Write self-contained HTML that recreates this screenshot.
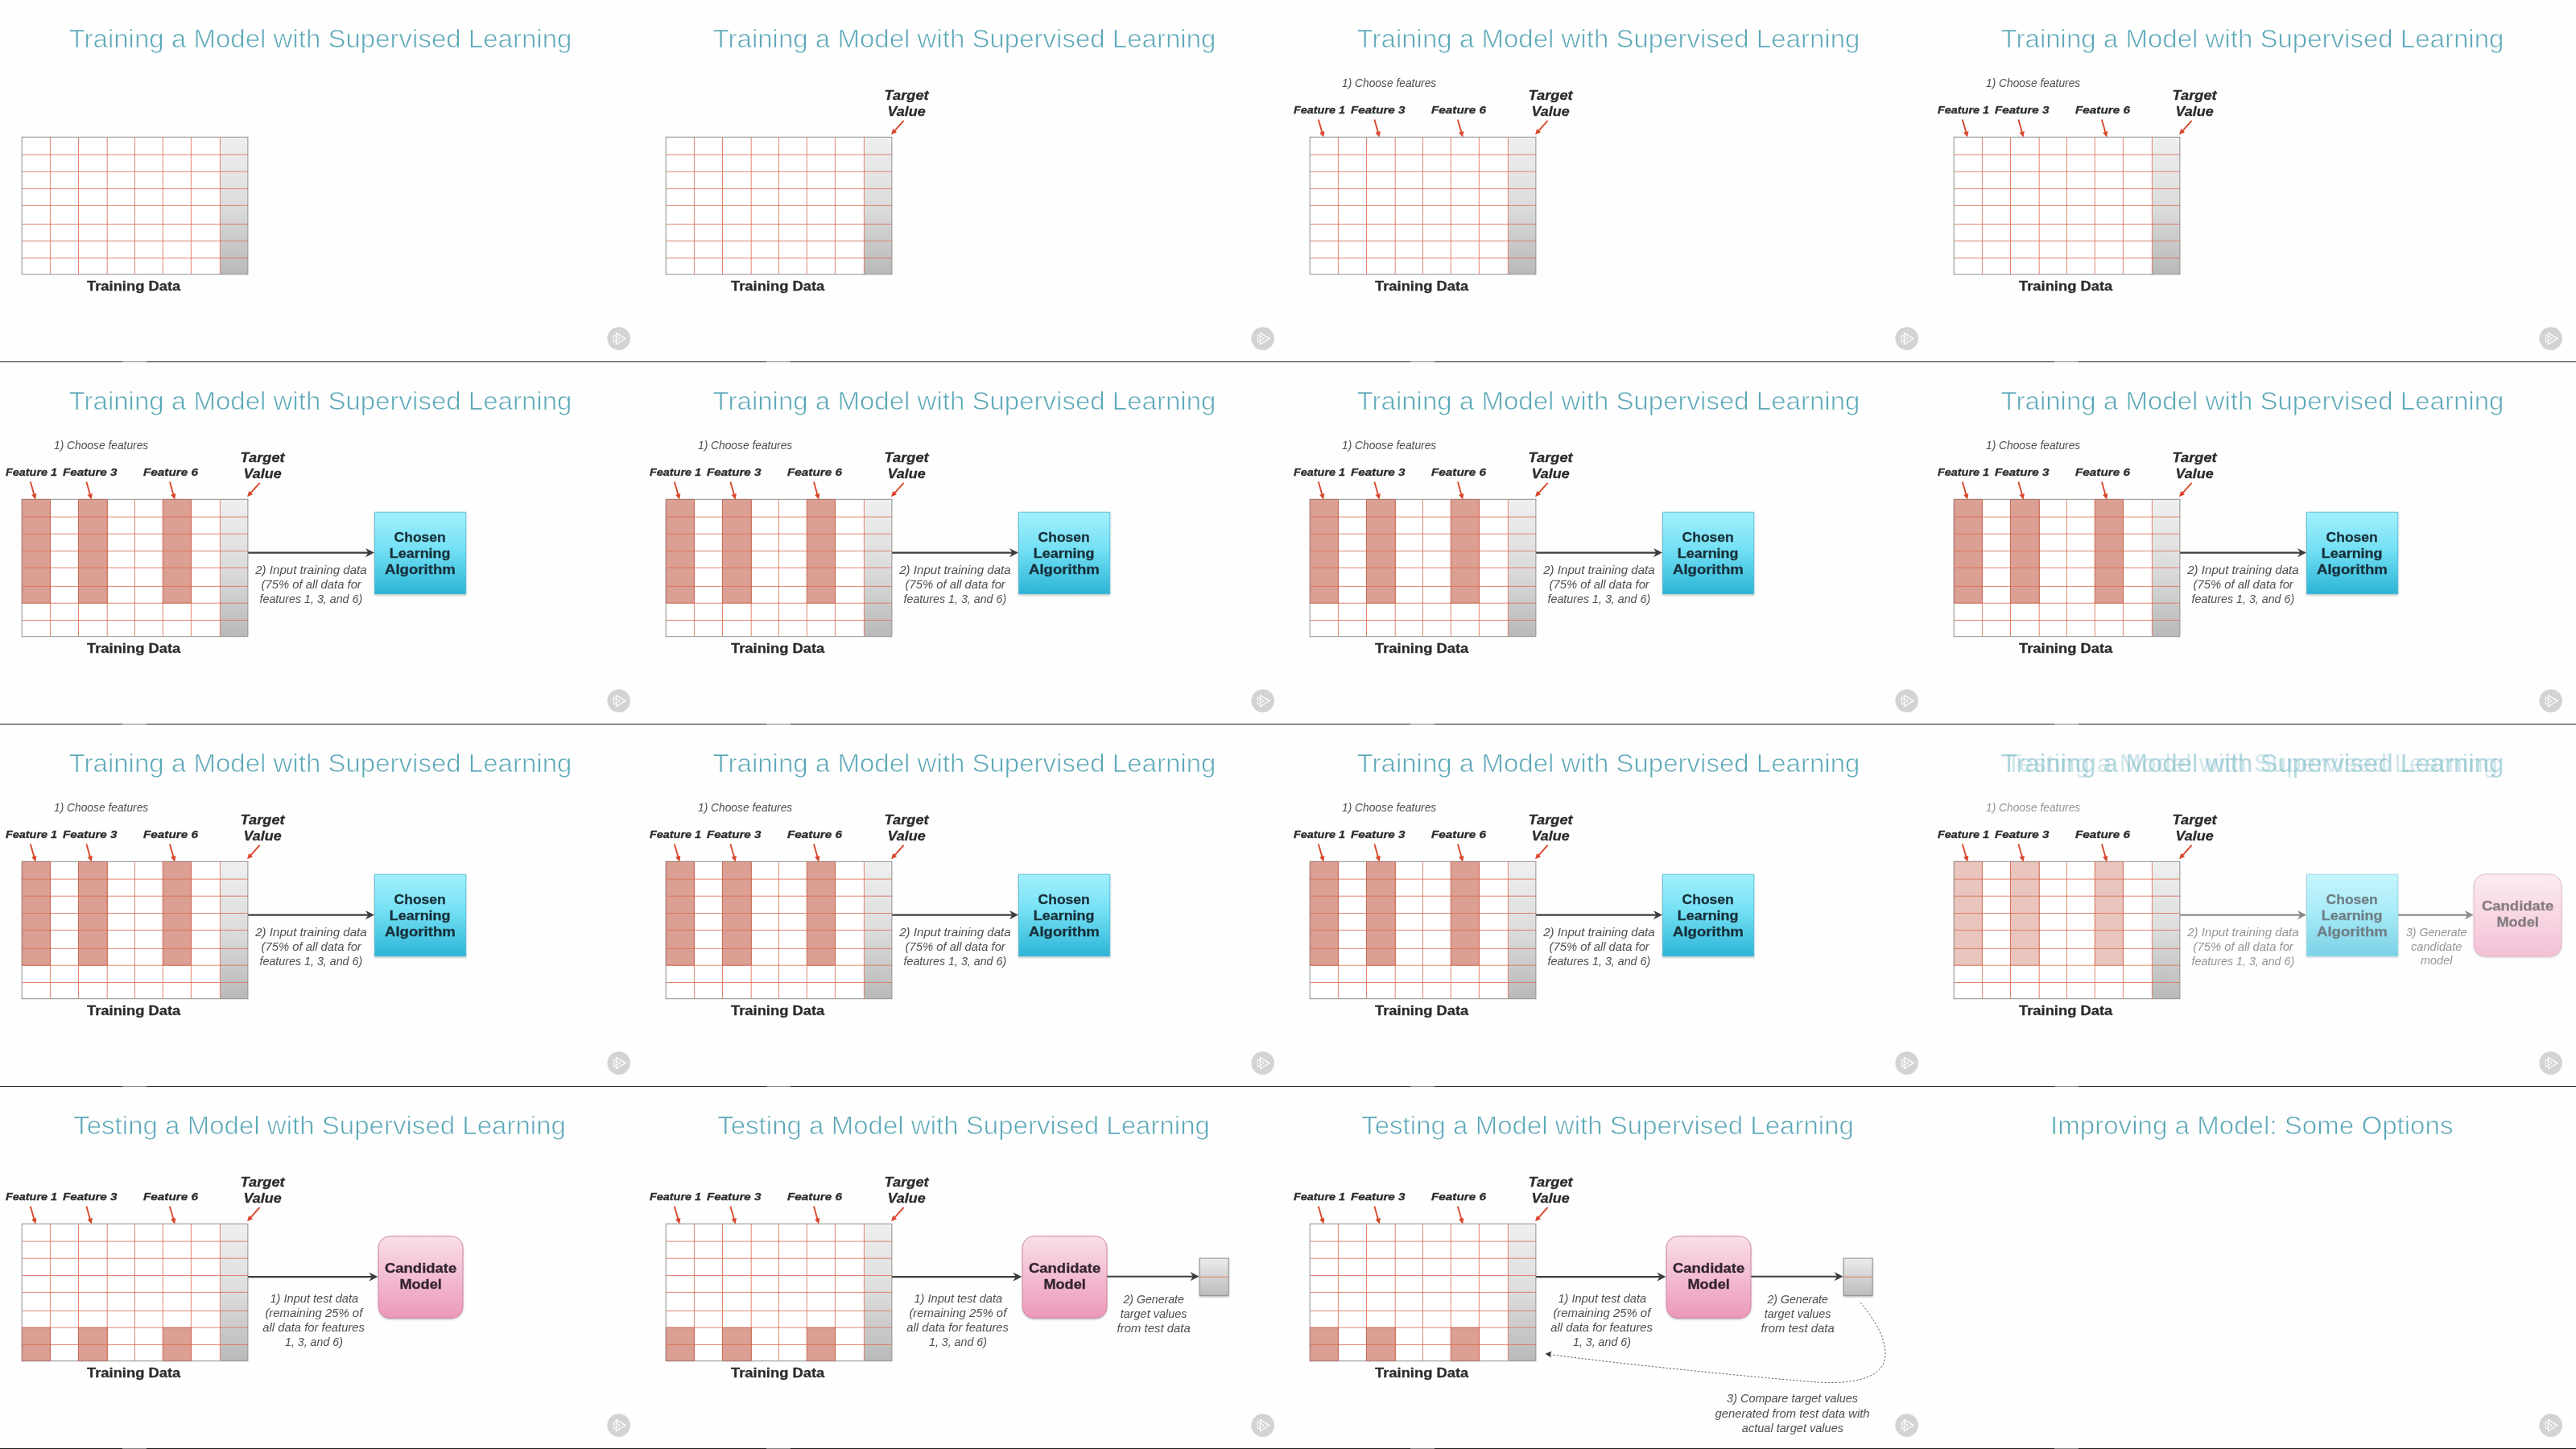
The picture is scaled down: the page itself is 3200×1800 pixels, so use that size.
<!DOCTYPE html><html><head><meta charset="utf-8"><title>Supervised Learning slides</title><style>
html,body{margin:0;padding:0;background:#fefefe;}
body{width:3200px;height:1800px;position:relative;overflow:hidden;font-family:"Liberation Sans", sans-serif;}
svg.c{will-change:transform;position:absolute;width:800px;height:450px;overflow:hidden;display:block;}
text{font-family:"Liberation Sans", sans-serif;fill:#2b2b2b;}
.tt{fill:#5ba8b8;font-weight:normal;stroke:#fefefe;stroke-width:0.7px;paint-order:fill stroke;}
.ttx{fill:#6fb3c1;font-weight:normal;}
.b{font-weight:bold;stroke:#2b2b2b;stroke-width:0.3px;}
.bi{font-weight:bold;font-style:italic;stroke:#2b2b2b;stroke-width:0.3px;}
.i{font-style:italic;fill:#4e4e4e;}
.ln{position:absolute;left:0;width:3200px;height:1.2px;background:#1c1c1c;}
.lg{position:absolute;width:30px;height:1.6px;background:#fefefe;opacity:.45;}

</style></head><body>
<svg width="0" height="0" style="position:absolute"><defs>
<linearGradient id="gg" x1="0" y1="0" x2="0" y2="1"><stop offset="0" stop-color="#efefef"/><stop offset="0.5" stop-color="#dcdcdc"/><stop offset="1" stop-color="#b9b9b9"/></linearGradient>
<linearGradient id="gg2" x1="0" y1="0" x2="0" y2="1"><stop offset="0" stop-color="#ececec"/><stop offset="1" stop-color="#bcbcbc"/></linearGradient>
<linearGradient id="gc" x1="0" y1="0" x2="0" y2="1"><stop offset="0" stop-color="#a2f0fd"/><stop offset="0.45" stop-color="#74e0f4"/><stop offset="1" stop-color="#2bb5d6"/></linearGradient>
<linearGradient id="gp" x1="0" y1="0" x2="0" y2="1"><stop offset="0" stop-color="#f9dfe9"/><stop offset="0.5" stop-color="#f3bcd2"/><stop offset="1" stop-color="#eb97ba"/></linearGradient>
<filter id="sh" x="-10%" y="-10%" width="120%" height="125%"><feDropShadow dx="0" dy="1.2" stdDeviation="1.1" flood-color="#000" flood-opacity="0.3"/></filter>
</defs></svg>
<svg class="c" style="left:0px;top:0px" viewBox="0 0 800 450"><text class="tt" x="85.6" y="58.9" font-size="31.2" textLength="624.8" lengthAdjust="spacingAndGlyphs">Training a Model with Supervised Learning</text><rect x="27.2" y="170.3" width="280.7" height="170.4" fill="#fff"/><rect x="273.4" y="170.3" width="34.5" height="170.4" fill="url(#gg)"/><path d="M62.4 170.3V340.7M97.5 170.3V340.7M133.2 170.3V340.7M167.4 170.3V340.7M202.3 170.3V340.7M237.4 170.3V340.7M273.4 170.3V340.7M27.2 192.1H307.9M27.2 213.2H307.9M27.2 234.5H307.9M27.2 255.4H307.9M27.2 278.4H307.9M27.2 299.2H307.9M27.2 320.5H307.9" stroke="#db7053" stroke-width="0.85" fill="none"/><rect x="27.2" y="170.3" width="280.7" height="170.4" fill="none" stroke="#8f8f8f" stroke-width="1"/><text class="b" x="108.0" y="360.6" font-size="16.3" textLength="116.2" lengthAdjust="spacingAndGlyphs">Training Data</text><circle cx="768.7" cy="420.6" r="14.3" fill="#d3d3d3"/><path d="M762.3 416L770.6 420.6L762.3 425.2Z" fill="none" stroke="#fff" stroke-width="1" stroke-linejoin="miter"/><path d="M765.4 413.6L777 420.6L765.4 427.6Z" fill="none" stroke="#fff" stroke-width="1.25" stroke-linejoin="miter"/></svg>
<svg class="c" style="left:800px;top:0px" viewBox="0 0 800 450"><text class="tt" x="85.6" y="58.9" font-size="31.2" textLength="624.8" lengthAdjust="spacingAndGlyphs">Training a Model with Supervised Learning</text><rect x="27.2" y="170.3" width="280.7" height="170.4" fill="#fff"/><rect x="273.4" y="170.3" width="34.5" height="170.4" fill="url(#gg)"/><path d="M62.4 170.3V340.7M97.5 170.3V340.7M133.2 170.3V340.7M167.4 170.3V340.7M202.3 170.3V340.7M237.4 170.3V340.7M273.4 170.3V340.7M27.2 192.1H307.9M27.2 213.2H307.9M27.2 234.5H307.9M27.2 255.4H307.9M27.2 278.4H307.9M27.2 299.2H307.9M27.2 320.5H307.9" stroke="#db7053" stroke-width="0.85" fill="none"/><rect x="27.2" y="170.3" width="280.7" height="170.4" fill="none" stroke="#8f8f8f" stroke-width="1"/><text class="b" x="108.0" y="360.6" font-size="16.3" textLength="116.2" lengthAdjust="spacingAndGlyphs">Training Data</text><text class="bi" x="298.6" y="123.7" font-size="16.5" textLength="55.0" lengthAdjust="spacingAndGlyphs">Target</text><text class="bi" x="302.6" y="143.6" font-size="16.5" textLength="47.0" lengthAdjust="spacingAndGlyphs">Value</text><path d="M322.6 149.8L311.0 162.8" stroke="#d9472c" stroke-width="1.9" fill="none"/><path d="M307.0 167.3L309.2 159.9L314.1 164.3Z" fill="#d9472c"/><circle cx="768.7" cy="420.6" r="14.3" fill="#d3d3d3"/><path d="M762.3 416L770.6 420.6L762.3 425.2Z" fill="none" stroke="#fff" stroke-width="1" stroke-linejoin="miter"/><path d="M765.4 413.6L777 420.6L765.4 427.6Z" fill="none" stroke="#fff" stroke-width="1.25" stroke-linejoin="miter"/></svg>
<svg class="c" style="left:1600px;top:0px" viewBox="0 0 800 450"><text class="tt" x="85.6" y="58.9" font-size="31.2" textLength="624.8" lengthAdjust="spacingAndGlyphs">Training a Model with Supervised Learning</text><rect x="27.2" y="170.3" width="280.7" height="170.4" fill="#fff"/><rect x="273.4" y="170.3" width="34.5" height="170.4" fill="url(#gg)"/><path d="M62.4 170.3V340.7M97.5 170.3V340.7M133.2 170.3V340.7M167.4 170.3V340.7M202.3 170.3V340.7M237.4 170.3V340.7M273.4 170.3V340.7M27.2 192.1H307.9M27.2 213.2H307.9M27.2 234.5H307.9M27.2 255.4H307.9M27.2 278.4H307.9M27.2 299.2H307.9M27.2 320.5H307.9" stroke="#db7053" stroke-width="0.85" fill="none"/><rect x="27.2" y="170.3" width="280.7" height="170.4" fill="none" stroke="#8f8f8f" stroke-width="1"/><text class="b" x="108.0" y="360.6" font-size="16.3" textLength="116.2" lengthAdjust="spacingAndGlyphs">Training Data</text><text class="bi" x="298.6" y="123.7" font-size="16.5" textLength="55.0" lengthAdjust="spacingAndGlyphs">Target</text><text class="bi" x="302.6" y="143.6" font-size="16.5" textLength="47.0" lengthAdjust="spacingAndGlyphs">Value</text><path d="M322.6 149.8L311.0 162.8" stroke="#d9472c" stroke-width="1.9" fill="none"/><path d="M307.0 167.3L309.2 159.9L314.1 164.3Z" fill="#d9472c"/><text class="bi" x="7.0" y="140.7" font-size="13.2" textLength="64.0" lengthAdjust="spacingAndGlyphs">Feature 1</text><text class="bi" x="78.0" y="140.7" font-size="13.2" textLength="67.4" lengthAdjust="spacingAndGlyphs">Feature 3</text><text class="bi" x="177.9" y="140.7" font-size="13.2" textLength="68.1" lengthAdjust="spacingAndGlyphs">Feature 6</text><path d="M37.8 148.5L42.5 164.7" stroke="#d9472c" stroke-width="1.9" fill="none"/><path d="M44.2 170.5L39.1 164.7L45.4 162.9Z" fill="#d9472c"/><path d="M107.4 148.5L112.0 164.7" stroke="#d9472c" stroke-width="1.9" fill="none"/><path d="M113.6 170.5L108.5 164.7L114.9 162.9Z" fill="#d9472c"/><path d="M210.9 148.5L215.5 164.7" stroke="#d9472c" stroke-width="1.9" fill="none"/><path d="M217.1 170.5L212.0 164.7L218.4 162.9Z" fill="#d9472c"/><text class="i" x="67.0" y="108.4" font-size="14.4" textLength="117.2" lengthAdjust="spacingAndGlyphs">1) Choose features</text><circle cx="768.7" cy="420.6" r="14.3" fill="#d3d3d3"/><path d="M762.3 416L770.6 420.6L762.3 425.2Z" fill="none" stroke="#fff" stroke-width="1" stroke-linejoin="miter"/><path d="M765.4 413.6L777 420.6L765.4 427.6Z" fill="none" stroke="#fff" stroke-width="1.25" stroke-linejoin="miter"/></svg>
<svg class="c" style="left:2400px;top:0px" viewBox="0 0 800 450"><text class="tt" x="85.6" y="58.9" font-size="31.2" textLength="624.8" lengthAdjust="spacingAndGlyphs">Training a Model with Supervised Learning</text><rect x="27.2" y="170.3" width="280.7" height="170.4" fill="#fff"/><rect x="273.4" y="170.3" width="34.5" height="170.4" fill="url(#gg)"/><path d="M62.4 170.3V340.7M97.5 170.3V340.7M133.2 170.3V340.7M167.4 170.3V340.7M202.3 170.3V340.7M237.4 170.3V340.7M273.4 170.3V340.7M27.2 192.1H307.9M27.2 213.2H307.9M27.2 234.5H307.9M27.2 255.4H307.9M27.2 278.4H307.9M27.2 299.2H307.9M27.2 320.5H307.9" stroke="#db7053" stroke-width="0.85" fill="none"/><rect x="27.2" y="170.3" width="280.7" height="170.4" fill="none" stroke="#8f8f8f" stroke-width="1"/><text class="b" x="108.0" y="360.6" font-size="16.3" textLength="116.2" lengthAdjust="spacingAndGlyphs">Training Data</text><text class="bi" x="298.6" y="123.7" font-size="16.5" textLength="55.0" lengthAdjust="spacingAndGlyphs">Target</text><text class="bi" x="302.6" y="143.6" font-size="16.5" textLength="47.0" lengthAdjust="spacingAndGlyphs">Value</text><path d="M322.6 149.8L311.0 162.8" stroke="#d9472c" stroke-width="1.9" fill="none"/><path d="M307.0 167.3L309.2 159.9L314.1 164.3Z" fill="#d9472c"/><text class="bi" x="7.0" y="140.7" font-size="13.2" textLength="64.0" lengthAdjust="spacingAndGlyphs">Feature 1</text><text class="bi" x="78.0" y="140.7" font-size="13.2" textLength="67.4" lengthAdjust="spacingAndGlyphs">Feature 3</text><text class="bi" x="177.9" y="140.7" font-size="13.2" textLength="68.1" lengthAdjust="spacingAndGlyphs">Feature 6</text><path d="M37.8 148.5L42.5 164.7" stroke="#d9472c" stroke-width="1.9" fill="none"/><path d="M44.2 170.5L39.1 164.7L45.4 162.9Z" fill="#d9472c"/><path d="M107.4 148.5L112.0 164.7" stroke="#d9472c" stroke-width="1.9" fill="none"/><path d="M113.6 170.5L108.5 164.7L114.9 162.9Z" fill="#d9472c"/><path d="M210.9 148.5L215.5 164.7" stroke="#d9472c" stroke-width="1.9" fill="none"/><path d="M217.1 170.5L212.0 164.7L218.4 162.9Z" fill="#d9472c"/><text class="i" x="67.0" y="108.4" font-size="14.4" textLength="117.2" lengthAdjust="spacingAndGlyphs">1) Choose features</text><circle cx="768.7" cy="420.6" r="14.3" fill="#d3d3d3"/><path d="M762.3 416L770.6 420.6L762.3 425.2Z" fill="none" stroke="#fff" stroke-width="1" stroke-linejoin="miter"/><path d="M765.4 413.6L777 420.6L765.4 427.6Z" fill="none" stroke="#fff" stroke-width="1.25" stroke-linejoin="miter"/></svg>
<svg class="c" style="left:0px;top:450px" viewBox="0 0 800 450"><text class="tt" x="85.6" y="58.9" font-size="31.2" textLength="624.8" lengthAdjust="spacingAndGlyphs">Training a Model with Supervised Learning</text><rect x="27.2" y="170.3" width="280.7" height="170.4" fill="#fff"/><rect x="273.4" y="170.3" width="34.5" height="170.4" fill="url(#gg)"/><rect x="27.2" y="170.3" width="35.8" height="128.9" fill="#dc9f93" opacity="1.0"/><rect x="97.5" y="170.3" width="36.3" height="128.9" fill="#dc9f93" opacity="1.0"/><rect x="202.3" y="170.3" width="35.7" height="128.9" fill="#dc9f93" opacity="1.0"/><path d="M62.4 170.3V340.7M97.5 170.3V340.7M133.2 170.3V340.7M167.4 170.3V340.7M202.3 170.3V340.7M237.4 170.3V340.7M273.4 170.3V340.7M27.2 192.1H307.9M27.2 213.2H307.9M27.2 234.5H307.9M27.2 255.4H307.9M27.2 278.4H307.9M27.2 299.2H307.9M27.2 320.5H307.9" stroke="#db7053" stroke-width="0.85" fill="none"/><rect x="27.2" y="170.3" width="280.7" height="170.4" fill="none" stroke="#8f8f8f" stroke-width="1"/><path d="M27.2 170.3H62.4V299.2H27.2ZM97.5 170.3H133.2V299.2H97.5ZM202.3 170.3H237.4V299.2H202.3Z" stroke="#b8503b" stroke-width="1" fill="none" opacity="0.45"/><text class="b" x="108.0" y="360.6" font-size="16.3" textLength="116.2" lengthAdjust="spacingAndGlyphs">Training Data</text><text class="bi" x="298.6" y="123.7" font-size="16.5" textLength="55.0" lengthAdjust="spacingAndGlyphs">Target</text><text class="bi" x="302.6" y="143.6" font-size="16.5" textLength="47.0" lengthAdjust="spacingAndGlyphs">Value</text><path d="M322.6 149.8L311.0 162.8" stroke="#d9472c" stroke-width="1.9" fill="none"/><path d="M307.0 167.3L309.2 159.9L314.1 164.3Z" fill="#d9472c"/><text class="bi" x="7.0" y="140.7" font-size="13.2" textLength="64.0" lengthAdjust="spacingAndGlyphs">Feature 1</text><text class="bi" x="78.0" y="140.7" font-size="13.2" textLength="67.4" lengthAdjust="spacingAndGlyphs">Feature 3</text><text class="bi" x="177.9" y="140.7" font-size="13.2" textLength="68.1" lengthAdjust="spacingAndGlyphs">Feature 6</text><path d="M37.8 148.5L42.5 164.7" stroke="#d9472c" stroke-width="1.9" fill="none"/><path d="M44.2 170.5L39.1 164.7L45.4 162.9Z" fill="#d9472c"/><path d="M107.4 148.5L112.0 164.7" stroke="#d9472c" stroke-width="1.9" fill="none"/><path d="M113.6 170.5L108.5 164.7L114.9 162.9Z" fill="#d9472c"/><path d="M210.9 148.5L215.5 164.7" stroke="#d9472c" stroke-width="1.9" fill="none"/><path d="M217.1 170.5L212.0 164.7L218.4 162.9Z" fill="#d9472c"/><text class="i" x="67.0" y="108.4" font-size="14.4" textLength="117.2" lengthAdjust="spacingAndGlyphs">1) Choose features</text><path d="M308.2 236.6H461.0" stroke="#3c3c3c" stroke-width="2.1" fill="none"/><path d="M465.0 236.6L454.0 231.0L457.4 236.6L454.0 242.2Z" fill="#3c3c3c"/><text class="i" x="317.2" y="262.9" font-size="14.6" textLength="138.5" lengthAdjust="spacingAndGlyphs">2) Input training data</text><text class="i" x="324.5" y="280.7" font-size="14.6" textLength="124.3" lengthAdjust="spacingAndGlyphs">(75% of all data for</text><text class="i" x="322.5" y="299.0" font-size="14.6" textLength="127.7" lengthAdjust="spacingAndGlyphs">features 1, 3, and 6)</text><g><rect x="465.5" y="186.2" width="113.3" height="101.6" fill="url(#gc)" stroke="#4fb9d3" stroke-width="0.8" filter="url(#sh)"/><text class="b" x="489.6" y="222.8" font-size="16.8" textLength="64.1" lengthAdjust="spacingAndGlyphs" style="fill:#17303a;stroke:#17303a">Chosen</text><text class="b" x="483.8" y="243.2" font-size="16.8" textLength="75.7" lengthAdjust="spacingAndGlyphs" style="fill:#17303a;stroke:#17303a">Learning</text><text class="b" x="478.0" y="263.0" font-size="16.8" textLength="87.8" lengthAdjust="spacingAndGlyphs" style="fill:#17303a;stroke:#17303a">Algorithm</text></g><circle cx="768.7" cy="420.6" r="14.3" fill="#d3d3d3"/><path d="M762.3 416L770.6 420.6L762.3 425.2Z" fill="none" stroke="#fff" stroke-width="1" stroke-linejoin="miter"/><path d="M765.4 413.6L777 420.6L765.4 427.6Z" fill="none" stroke="#fff" stroke-width="1.25" stroke-linejoin="miter"/></svg>
<svg class="c" style="left:800px;top:450px" viewBox="0 0 800 450"><text class="tt" x="85.6" y="58.9" font-size="31.2" textLength="624.8" lengthAdjust="spacingAndGlyphs">Training a Model with Supervised Learning</text><rect x="27.2" y="170.3" width="280.7" height="170.4" fill="#fff"/><rect x="273.4" y="170.3" width="34.5" height="170.4" fill="url(#gg)"/><rect x="27.2" y="170.3" width="35.8" height="128.9" fill="#dc9f93" opacity="1.0"/><rect x="97.5" y="170.3" width="36.3" height="128.9" fill="#dc9f93" opacity="1.0"/><rect x="202.3" y="170.3" width="35.7" height="128.9" fill="#dc9f93" opacity="1.0"/><path d="M62.4 170.3V340.7M97.5 170.3V340.7M133.2 170.3V340.7M167.4 170.3V340.7M202.3 170.3V340.7M237.4 170.3V340.7M273.4 170.3V340.7M27.2 192.1H307.9M27.2 213.2H307.9M27.2 234.5H307.9M27.2 255.4H307.9M27.2 278.4H307.9M27.2 299.2H307.9M27.2 320.5H307.9" stroke="#db7053" stroke-width="0.85" fill="none"/><rect x="27.2" y="170.3" width="280.7" height="170.4" fill="none" stroke="#8f8f8f" stroke-width="1"/><path d="M27.2 170.3H62.4V299.2H27.2ZM97.5 170.3H133.2V299.2H97.5ZM202.3 170.3H237.4V299.2H202.3Z" stroke="#b8503b" stroke-width="1" fill="none" opacity="0.45"/><text class="b" x="108.0" y="360.6" font-size="16.3" textLength="116.2" lengthAdjust="spacingAndGlyphs">Training Data</text><text class="bi" x="298.6" y="123.7" font-size="16.5" textLength="55.0" lengthAdjust="spacingAndGlyphs">Target</text><text class="bi" x="302.6" y="143.6" font-size="16.5" textLength="47.0" lengthAdjust="spacingAndGlyphs">Value</text><path d="M322.6 149.8L311.0 162.8" stroke="#d9472c" stroke-width="1.9" fill="none"/><path d="M307.0 167.3L309.2 159.9L314.1 164.3Z" fill="#d9472c"/><text class="bi" x="7.0" y="140.7" font-size="13.2" textLength="64.0" lengthAdjust="spacingAndGlyphs">Feature 1</text><text class="bi" x="78.0" y="140.7" font-size="13.2" textLength="67.4" lengthAdjust="spacingAndGlyphs">Feature 3</text><text class="bi" x="177.9" y="140.7" font-size="13.2" textLength="68.1" lengthAdjust="spacingAndGlyphs">Feature 6</text><path d="M37.8 148.5L42.5 164.7" stroke="#d9472c" stroke-width="1.9" fill="none"/><path d="M44.2 170.5L39.1 164.7L45.4 162.9Z" fill="#d9472c"/><path d="M107.4 148.5L112.0 164.7" stroke="#d9472c" stroke-width="1.9" fill="none"/><path d="M113.6 170.5L108.5 164.7L114.9 162.9Z" fill="#d9472c"/><path d="M210.9 148.5L215.5 164.7" stroke="#d9472c" stroke-width="1.9" fill="none"/><path d="M217.1 170.5L212.0 164.7L218.4 162.9Z" fill="#d9472c"/><text class="i" x="67.0" y="108.4" font-size="14.4" textLength="117.2" lengthAdjust="spacingAndGlyphs">1) Choose features</text><path d="M308.2 236.6H461.0" stroke="#3c3c3c" stroke-width="2.1" fill="none"/><path d="M465.0 236.6L454.0 231.0L457.4 236.6L454.0 242.2Z" fill="#3c3c3c"/><text class="i" x="317.2" y="262.9" font-size="14.6" textLength="138.5" lengthAdjust="spacingAndGlyphs">2) Input training data</text><text class="i" x="324.5" y="280.7" font-size="14.6" textLength="124.3" lengthAdjust="spacingAndGlyphs">(75% of all data for</text><text class="i" x="322.5" y="299.0" font-size="14.6" textLength="127.7" lengthAdjust="spacingAndGlyphs">features 1, 3, and 6)</text><g><rect x="465.5" y="186.2" width="113.3" height="101.6" fill="url(#gc)" stroke="#4fb9d3" stroke-width="0.8" filter="url(#sh)"/><text class="b" x="489.6" y="222.8" font-size="16.8" textLength="64.1" lengthAdjust="spacingAndGlyphs" style="fill:#17303a;stroke:#17303a">Chosen</text><text class="b" x="483.8" y="243.2" font-size="16.8" textLength="75.7" lengthAdjust="spacingAndGlyphs" style="fill:#17303a;stroke:#17303a">Learning</text><text class="b" x="478.0" y="263.0" font-size="16.8" textLength="87.8" lengthAdjust="spacingAndGlyphs" style="fill:#17303a;stroke:#17303a">Algorithm</text></g><circle cx="768.7" cy="420.6" r="14.3" fill="#d3d3d3"/><path d="M762.3 416L770.6 420.6L762.3 425.2Z" fill="none" stroke="#fff" stroke-width="1" stroke-linejoin="miter"/><path d="M765.4 413.6L777 420.6L765.4 427.6Z" fill="none" stroke="#fff" stroke-width="1.25" stroke-linejoin="miter"/></svg>
<svg class="c" style="left:1600px;top:450px" viewBox="0 0 800 450"><text class="tt" x="85.6" y="58.9" font-size="31.2" textLength="624.8" lengthAdjust="spacingAndGlyphs">Training a Model with Supervised Learning</text><rect x="27.2" y="170.3" width="280.7" height="170.4" fill="#fff"/><rect x="273.4" y="170.3" width="34.5" height="170.4" fill="url(#gg)"/><rect x="27.2" y="170.3" width="35.8" height="128.9" fill="#dc9f93" opacity="1.0"/><rect x="97.5" y="170.3" width="36.3" height="128.9" fill="#dc9f93" opacity="1.0"/><rect x="202.3" y="170.3" width="35.7" height="128.9" fill="#dc9f93" opacity="1.0"/><path d="M62.4 170.3V340.7M97.5 170.3V340.7M133.2 170.3V340.7M167.4 170.3V340.7M202.3 170.3V340.7M237.4 170.3V340.7M273.4 170.3V340.7M27.2 192.1H307.9M27.2 213.2H307.9M27.2 234.5H307.9M27.2 255.4H307.9M27.2 278.4H307.9M27.2 299.2H307.9M27.2 320.5H307.9" stroke="#db7053" stroke-width="0.85" fill="none"/><rect x="27.2" y="170.3" width="280.7" height="170.4" fill="none" stroke="#8f8f8f" stroke-width="1"/><path d="M27.2 170.3H62.4V299.2H27.2ZM97.5 170.3H133.2V299.2H97.5ZM202.3 170.3H237.4V299.2H202.3Z" stroke="#b8503b" stroke-width="1" fill="none" opacity="0.45"/><text class="b" x="108.0" y="360.6" font-size="16.3" textLength="116.2" lengthAdjust="spacingAndGlyphs">Training Data</text><text class="bi" x="298.6" y="123.7" font-size="16.5" textLength="55.0" lengthAdjust="spacingAndGlyphs">Target</text><text class="bi" x="302.6" y="143.6" font-size="16.5" textLength="47.0" lengthAdjust="spacingAndGlyphs">Value</text><path d="M322.6 149.8L311.0 162.8" stroke="#d9472c" stroke-width="1.9" fill="none"/><path d="M307.0 167.3L309.2 159.9L314.1 164.3Z" fill="#d9472c"/><text class="bi" x="7.0" y="140.7" font-size="13.2" textLength="64.0" lengthAdjust="spacingAndGlyphs">Feature 1</text><text class="bi" x="78.0" y="140.7" font-size="13.2" textLength="67.4" lengthAdjust="spacingAndGlyphs">Feature 3</text><text class="bi" x="177.9" y="140.7" font-size="13.2" textLength="68.1" lengthAdjust="spacingAndGlyphs">Feature 6</text><path d="M37.8 148.5L42.5 164.7" stroke="#d9472c" stroke-width="1.9" fill="none"/><path d="M44.2 170.5L39.1 164.7L45.4 162.9Z" fill="#d9472c"/><path d="M107.4 148.5L112.0 164.7" stroke="#d9472c" stroke-width="1.9" fill="none"/><path d="M113.6 170.5L108.5 164.7L114.9 162.9Z" fill="#d9472c"/><path d="M210.9 148.5L215.5 164.7" stroke="#d9472c" stroke-width="1.9" fill="none"/><path d="M217.1 170.5L212.0 164.7L218.4 162.9Z" fill="#d9472c"/><text class="i" x="67.0" y="108.4" font-size="14.4" textLength="117.2" lengthAdjust="spacingAndGlyphs">1) Choose features</text><path d="M308.2 236.6H461.0" stroke="#3c3c3c" stroke-width="2.1" fill="none"/><path d="M465.0 236.6L454.0 231.0L457.4 236.6L454.0 242.2Z" fill="#3c3c3c"/><text class="i" x="317.2" y="262.9" font-size="14.6" textLength="138.5" lengthAdjust="spacingAndGlyphs">2) Input training data</text><text class="i" x="324.5" y="280.7" font-size="14.6" textLength="124.3" lengthAdjust="spacingAndGlyphs">(75% of all data for</text><text class="i" x="322.5" y="299.0" font-size="14.6" textLength="127.7" lengthAdjust="spacingAndGlyphs">features 1, 3, and 6)</text><g><rect x="465.5" y="186.2" width="113.3" height="101.6" fill="url(#gc)" stroke="#4fb9d3" stroke-width="0.8" filter="url(#sh)"/><text class="b" x="489.6" y="222.8" font-size="16.8" textLength="64.1" lengthAdjust="spacingAndGlyphs" style="fill:#17303a;stroke:#17303a">Chosen</text><text class="b" x="483.8" y="243.2" font-size="16.8" textLength="75.7" lengthAdjust="spacingAndGlyphs" style="fill:#17303a;stroke:#17303a">Learning</text><text class="b" x="478.0" y="263.0" font-size="16.8" textLength="87.8" lengthAdjust="spacingAndGlyphs" style="fill:#17303a;stroke:#17303a">Algorithm</text></g><circle cx="768.7" cy="420.6" r="14.3" fill="#d3d3d3"/><path d="M762.3 416L770.6 420.6L762.3 425.2Z" fill="none" stroke="#fff" stroke-width="1" stroke-linejoin="miter"/><path d="M765.4 413.6L777 420.6L765.4 427.6Z" fill="none" stroke="#fff" stroke-width="1.25" stroke-linejoin="miter"/></svg>
<svg class="c" style="left:2400px;top:450px" viewBox="0 0 800 450"><text class="tt" x="85.6" y="58.9" font-size="31.2" textLength="624.8" lengthAdjust="spacingAndGlyphs">Training a Model with Supervised Learning</text><rect x="27.2" y="170.3" width="280.7" height="170.4" fill="#fff"/><rect x="273.4" y="170.3" width="34.5" height="170.4" fill="url(#gg)"/><rect x="27.2" y="170.3" width="35.8" height="128.9" fill="#dc9f93" opacity="1.0"/><rect x="97.5" y="170.3" width="36.3" height="128.9" fill="#dc9f93" opacity="1.0"/><rect x="202.3" y="170.3" width="35.7" height="128.9" fill="#dc9f93" opacity="1.0"/><path d="M62.4 170.3V340.7M97.5 170.3V340.7M133.2 170.3V340.7M167.4 170.3V340.7M202.3 170.3V340.7M237.4 170.3V340.7M273.4 170.3V340.7M27.2 192.1H307.9M27.2 213.2H307.9M27.2 234.5H307.9M27.2 255.4H307.9M27.2 278.4H307.9M27.2 299.2H307.9M27.2 320.5H307.9" stroke="#db7053" stroke-width="0.85" fill="none"/><rect x="27.2" y="170.3" width="280.7" height="170.4" fill="none" stroke="#8f8f8f" stroke-width="1"/><path d="M27.2 170.3H62.4V299.2H27.2ZM97.5 170.3H133.2V299.2H97.5ZM202.3 170.3H237.4V299.2H202.3Z" stroke="#b8503b" stroke-width="1" fill="none" opacity="0.45"/><text class="b" x="108.0" y="360.6" font-size="16.3" textLength="116.2" lengthAdjust="spacingAndGlyphs">Training Data</text><text class="bi" x="298.6" y="123.7" font-size="16.5" textLength="55.0" lengthAdjust="spacingAndGlyphs">Target</text><text class="bi" x="302.6" y="143.6" font-size="16.5" textLength="47.0" lengthAdjust="spacingAndGlyphs">Value</text><path d="M322.6 149.8L311.0 162.8" stroke="#d9472c" stroke-width="1.9" fill="none"/><path d="M307.0 167.3L309.2 159.9L314.1 164.3Z" fill="#d9472c"/><text class="bi" x="7.0" y="140.7" font-size="13.2" textLength="64.0" lengthAdjust="spacingAndGlyphs">Feature 1</text><text class="bi" x="78.0" y="140.7" font-size="13.2" textLength="67.4" lengthAdjust="spacingAndGlyphs">Feature 3</text><text class="bi" x="177.9" y="140.7" font-size="13.2" textLength="68.1" lengthAdjust="spacingAndGlyphs">Feature 6</text><path d="M37.8 148.5L42.5 164.7" stroke="#d9472c" stroke-width="1.9" fill="none"/><path d="M44.2 170.5L39.1 164.7L45.4 162.9Z" fill="#d9472c"/><path d="M107.4 148.5L112.0 164.7" stroke="#d9472c" stroke-width="1.9" fill="none"/><path d="M113.6 170.5L108.5 164.7L114.9 162.9Z" fill="#d9472c"/><path d="M210.9 148.5L215.5 164.7" stroke="#d9472c" stroke-width="1.9" fill="none"/><path d="M217.1 170.5L212.0 164.7L218.4 162.9Z" fill="#d9472c"/><text class="i" x="67.0" y="108.4" font-size="14.4" textLength="117.2" lengthAdjust="spacingAndGlyphs">1) Choose features</text><path d="M308.2 236.6H461.0" stroke="#3c3c3c" stroke-width="2.1" fill="none"/><path d="M465.0 236.6L454.0 231.0L457.4 236.6L454.0 242.2Z" fill="#3c3c3c"/><text class="i" x="317.2" y="262.9" font-size="14.6" textLength="138.5" lengthAdjust="spacingAndGlyphs">2) Input training data</text><text class="i" x="324.5" y="280.7" font-size="14.6" textLength="124.3" lengthAdjust="spacingAndGlyphs">(75% of all data for</text><text class="i" x="322.5" y="299.0" font-size="14.6" textLength="127.7" lengthAdjust="spacingAndGlyphs">features 1, 3, and 6)</text><g><rect x="465.5" y="186.2" width="113.3" height="101.6" fill="url(#gc)" stroke="#4fb9d3" stroke-width="0.8" filter="url(#sh)"/><text class="b" x="489.6" y="222.8" font-size="16.8" textLength="64.1" lengthAdjust="spacingAndGlyphs" style="fill:#17303a;stroke:#17303a">Chosen</text><text class="b" x="483.8" y="243.2" font-size="16.8" textLength="75.7" lengthAdjust="spacingAndGlyphs" style="fill:#17303a;stroke:#17303a">Learning</text><text class="b" x="478.0" y="263.0" font-size="16.8" textLength="87.8" lengthAdjust="spacingAndGlyphs" style="fill:#17303a;stroke:#17303a">Algorithm</text></g><circle cx="768.7" cy="420.6" r="14.3" fill="#d3d3d3"/><path d="M762.3 416L770.6 420.6L762.3 425.2Z" fill="none" stroke="#fff" stroke-width="1" stroke-linejoin="miter"/><path d="M765.4 413.6L777 420.6L765.4 427.6Z" fill="none" stroke="#fff" stroke-width="1.25" stroke-linejoin="miter"/></svg>
<svg class="c" style="left:0px;top:900px" viewBox="0 0 800 450"><text class="tt" x="85.6" y="58.9" font-size="31.2" textLength="624.8" lengthAdjust="spacingAndGlyphs">Training a Model with Supervised Learning</text><rect x="27.2" y="170.3" width="280.7" height="170.4" fill="#fff"/><rect x="273.4" y="170.3" width="34.5" height="170.4" fill="url(#gg)"/><rect x="27.2" y="170.3" width="35.8" height="128.9" fill="#dc9f93" opacity="1.0"/><rect x="97.5" y="170.3" width="36.3" height="128.9" fill="#dc9f93" opacity="1.0"/><rect x="202.3" y="170.3" width="35.7" height="128.9" fill="#dc9f93" opacity="1.0"/><path d="M62.4 170.3V340.7M97.5 170.3V340.7M133.2 170.3V340.7M167.4 170.3V340.7M202.3 170.3V340.7M237.4 170.3V340.7M273.4 170.3V340.7M27.2 192.1H307.9M27.2 213.2H307.9M27.2 234.5H307.9M27.2 255.4H307.9M27.2 278.4H307.9M27.2 299.2H307.9M27.2 320.5H307.9" stroke="#db7053" stroke-width="0.85" fill="none"/><rect x="27.2" y="170.3" width="280.7" height="170.4" fill="none" stroke="#8f8f8f" stroke-width="1"/><path d="M27.2 170.3H62.4V299.2H27.2ZM97.5 170.3H133.2V299.2H97.5ZM202.3 170.3H237.4V299.2H202.3Z" stroke="#b8503b" stroke-width="1" fill="none" opacity="0.45"/><text class="b" x="108.0" y="360.6" font-size="16.3" textLength="116.2" lengthAdjust="spacingAndGlyphs">Training Data</text><text class="bi" x="298.6" y="123.7" font-size="16.5" textLength="55.0" lengthAdjust="spacingAndGlyphs">Target</text><text class="bi" x="302.6" y="143.6" font-size="16.5" textLength="47.0" lengthAdjust="spacingAndGlyphs">Value</text><path d="M322.6 149.8L311.0 162.8" stroke="#d9472c" stroke-width="1.9" fill="none"/><path d="M307.0 167.3L309.2 159.9L314.1 164.3Z" fill="#d9472c"/><text class="bi" x="7.0" y="140.7" font-size="13.2" textLength="64.0" lengthAdjust="spacingAndGlyphs">Feature 1</text><text class="bi" x="78.0" y="140.7" font-size="13.2" textLength="67.4" lengthAdjust="spacingAndGlyphs">Feature 3</text><text class="bi" x="177.9" y="140.7" font-size="13.2" textLength="68.1" lengthAdjust="spacingAndGlyphs">Feature 6</text><path d="M37.8 148.5L42.5 164.7" stroke="#d9472c" stroke-width="1.9" fill="none"/><path d="M44.2 170.5L39.1 164.7L45.4 162.9Z" fill="#d9472c"/><path d="M107.4 148.5L112.0 164.7" stroke="#d9472c" stroke-width="1.9" fill="none"/><path d="M113.6 170.5L108.5 164.7L114.9 162.9Z" fill="#d9472c"/><path d="M210.9 148.5L215.5 164.7" stroke="#d9472c" stroke-width="1.9" fill="none"/><path d="M217.1 170.5L212.0 164.7L218.4 162.9Z" fill="#d9472c"/><text class="i" x="67.0" y="108.4" font-size="14.4" textLength="117.2" lengthAdjust="spacingAndGlyphs">1) Choose features</text><path d="M308.2 236.6H461.0" stroke="#3c3c3c" stroke-width="2.1" fill="none"/><path d="M465.0 236.6L454.0 231.0L457.4 236.6L454.0 242.2Z" fill="#3c3c3c"/><text class="i" x="317.2" y="262.9" font-size="14.6" textLength="138.5" lengthAdjust="spacingAndGlyphs">2) Input training data</text><text class="i" x="324.5" y="280.7" font-size="14.6" textLength="124.3" lengthAdjust="spacingAndGlyphs">(75% of all data for</text><text class="i" x="322.5" y="299.0" font-size="14.6" textLength="127.7" lengthAdjust="spacingAndGlyphs">features 1, 3, and 6)</text><g><rect x="465.5" y="186.2" width="113.3" height="101.6" fill="url(#gc)" stroke="#4fb9d3" stroke-width="0.8" filter="url(#sh)"/><text class="b" x="489.6" y="222.8" font-size="16.8" textLength="64.1" lengthAdjust="spacingAndGlyphs" style="fill:#17303a;stroke:#17303a">Chosen</text><text class="b" x="483.8" y="243.2" font-size="16.8" textLength="75.7" lengthAdjust="spacingAndGlyphs" style="fill:#17303a;stroke:#17303a">Learning</text><text class="b" x="478.0" y="263.0" font-size="16.8" textLength="87.8" lengthAdjust="spacingAndGlyphs" style="fill:#17303a;stroke:#17303a">Algorithm</text></g><circle cx="768.7" cy="420.6" r="14.3" fill="#d3d3d3"/><path d="M762.3 416L770.6 420.6L762.3 425.2Z" fill="none" stroke="#fff" stroke-width="1" stroke-linejoin="miter"/><path d="M765.4 413.6L777 420.6L765.4 427.6Z" fill="none" stroke="#fff" stroke-width="1.25" stroke-linejoin="miter"/></svg>
<svg class="c" style="left:800px;top:900px" viewBox="0 0 800 450"><text class="tt" x="85.6" y="58.9" font-size="31.2" textLength="624.8" lengthAdjust="spacingAndGlyphs">Training a Model with Supervised Learning</text><rect x="27.2" y="170.3" width="280.7" height="170.4" fill="#fff"/><rect x="273.4" y="170.3" width="34.5" height="170.4" fill="url(#gg)"/><rect x="27.2" y="170.3" width="35.8" height="128.9" fill="#dc9f93" opacity="1.0"/><rect x="97.5" y="170.3" width="36.3" height="128.9" fill="#dc9f93" opacity="1.0"/><rect x="202.3" y="170.3" width="35.7" height="128.9" fill="#dc9f93" opacity="1.0"/><path d="M62.4 170.3V340.7M97.5 170.3V340.7M133.2 170.3V340.7M167.4 170.3V340.7M202.3 170.3V340.7M237.4 170.3V340.7M273.4 170.3V340.7M27.2 192.1H307.9M27.2 213.2H307.9M27.2 234.5H307.9M27.2 255.4H307.9M27.2 278.4H307.9M27.2 299.2H307.9M27.2 320.5H307.9" stroke="#db7053" stroke-width="0.85" fill="none"/><rect x="27.2" y="170.3" width="280.7" height="170.4" fill="none" stroke="#8f8f8f" stroke-width="1"/><path d="M27.2 170.3H62.4V299.2H27.2ZM97.5 170.3H133.2V299.2H97.5ZM202.3 170.3H237.4V299.2H202.3Z" stroke="#b8503b" stroke-width="1" fill="none" opacity="0.45"/><text class="b" x="108.0" y="360.6" font-size="16.3" textLength="116.2" lengthAdjust="spacingAndGlyphs">Training Data</text><text class="bi" x="298.6" y="123.7" font-size="16.5" textLength="55.0" lengthAdjust="spacingAndGlyphs">Target</text><text class="bi" x="302.6" y="143.6" font-size="16.5" textLength="47.0" lengthAdjust="spacingAndGlyphs">Value</text><path d="M322.6 149.8L311.0 162.8" stroke="#d9472c" stroke-width="1.9" fill="none"/><path d="M307.0 167.3L309.2 159.9L314.1 164.3Z" fill="#d9472c"/><text class="bi" x="7.0" y="140.7" font-size="13.2" textLength="64.0" lengthAdjust="spacingAndGlyphs">Feature 1</text><text class="bi" x="78.0" y="140.7" font-size="13.2" textLength="67.4" lengthAdjust="spacingAndGlyphs">Feature 3</text><text class="bi" x="177.9" y="140.7" font-size="13.2" textLength="68.1" lengthAdjust="spacingAndGlyphs">Feature 6</text><path d="M37.8 148.5L42.5 164.7" stroke="#d9472c" stroke-width="1.9" fill="none"/><path d="M44.2 170.5L39.1 164.7L45.4 162.9Z" fill="#d9472c"/><path d="M107.4 148.5L112.0 164.7" stroke="#d9472c" stroke-width="1.9" fill="none"/><path d="M113.6 170.5L108.5 164.7L114.9 162.9Z" fill="#d9472c"/><path d="M210.9 148.5L215.5 164.7" stroke="#d9472c" stroke-width="1.9" fill="none"/><path d="M217.1 170.5L212.0 164.7L218.4 162.9Z" fill="#d9472c"/><text class="i" x="67.0" y="108.4" font-size="14.4" textLength="117.2" lengthAdjust="spacingAndGlyphs">1) Choose features</text><path d="M308.2 236.6H461.0" stroke="#3c3c3c" stroke-width="2.1" fill="none"/><path d="M465.0 236.6L454.0 231.0L457.4 236.6L454.0 242.2Z" fill="#3c3c3c"/><text class="i" x="317.2" y="262.9" font-size="14.6" textLength="138.5" lengthAdjust="spacingAndGlyphs">2) Input training data</text><text class="i" x="324.5" y="280.7" font-size="14.6" textLength="124.3" lengthAdjust="spacingAndGlyphs">(75% of all data for</text><text class="i" x="322.5" y="299.0" font-size="14.6" textLength="127.7" lengthAdjust="spacingAndGlyphs">features 1, 3, and 6)</text><g><rect x="465.5" y="186.2" width="113.3" height="101.6" fill="url(#gc)" stroke="#4fb9d3" stroke-width="0.8" filter="url(#sh)"/><text class="b" x="489.6" y="222.8" font-size="16.8" textLength="64.1" lengthAdjust="spacingAndGlyphs" style="fill:#17303a;stroke:#17303a">Chosen</text><text class="b" x="483.8" y="243.2" font-size="16.8" textLength="75.7" lengthAdjust="spacingAndGlyphs" style="fill:#17303a;stroke:#17303a">Learning</text><text class="b" x="478.0" y="263.0" font-size="16.8" textLength="87.8" lengthAdjust="spacingAndGlyphs" style="fill:#17303a;stroke:#17303a">Algorithm</text></g><circle cx="768.7" cy="420.6" r="14.3" fill="#d3d3d3"/><path d="M762.3 416L770.6 420.6L762.3 425.2Z" fill="none" stroke="#fff" stroke-width="1" stroke-linejoin="miter"/><path d="M765.4 413.6L777 420.6L765.4 427.6Z" fill="none" stroke="#fff" stroke-width="1.25" stroke-linejoin="miter"/></svg>
<svg class="c" style="left:1600px;top:900px" viewBox="0 0 800 450"><text class="tt" x="85.6" y="58.9" font-size="31.2" textLength="624.8" lengthAdjust="spacingAndGlyphs">Training a Model with Supervised Learning</text><rect x="27.2" y="170.3" width="280.7" height="170.4" fill="#fff"/><rect x="273.4" y="170.3" width="34.5" height="170.4" fill="url(#gg)"/><rect x="27.2" y="170.3" width="35.8" height="128.9" fill="#dc9f93" opacity="1.0"/><rect x="97.5" y="170.3" width="36.3" height="128.9" fill="#dc9f93" opacity="1.0"/><rect x="202.3" y="170.3" width="35.7" height="128.9" fill="#dc9f93" opacity="1.0"/><path d="M62.4 170.3V340.7M97.5 170.3V340.7M133.2 170.3V340.7M167.4 170.3V340.7M202.3 170.3V340.7M237.4 170.3V340.7M273.4 170.3V340.7M27.2 192.1H307.9M27.2 213.2H307.9M27.2 234.5H307.9M27.2 255.4H307.9M27.2 278.4H307.9M27.2 299.2H307.9M27.2 320.5H307.9" stroke="#db7053" stroke-width="0.85" fill="none"/><rect x="27.2" y="170.3" width="280.7" height="170.4" fill="none" stroke="#8f8f8f" stroke-width="1"/><path d="M27.2 170.3H62.4V299.2H27.2ZM97.5 170.3H133.2V299.2H97.5ZM202.3 170.3H237.4V299.2H202.3Z" stroke="#b8503b" stroke-width="1" fill="none" opacity="0.45"/><text class="b" x="108.0" y="360.6" font-size="16.3" textLength="116.2" lengthAdjust="spacingAndGlyphs">Training Data</text><text class="bi" x="298.6" y="123.7" font-size="16.5" textLength="55.0" lengthAdjust="spacingAndGlyphs">Target</text><text class="bi" x="302.6" y="143.6" font-size="16.5" textLength="47.0" lengthAdjust="spacingAndGlyphs">Value</text><path d="M322.6 149.8L311.0 162.8" stroke="#d9472c" stroke-width="1.9" fill="none"/><path d="M307.0 167.3L309.2 159.9L314.1 164.3Z" fill="#d9472c"/><text class="bi" x="7.0" y="140.7" font-size="13.2" textLength="64.0" lengthAdjust="spacingAndGlyphs">Feature 1</text><text class="bi" x="78.0" y="140.7" font-size="13.2" textLength="67.4" lengthAdjust="spacingAndGlyphs">Feature 3</text><text class="bi" x="177.9" y="140.7" font-size="13.2" textLength="68.1" lengthAdjust="spacingAndGlyphs">Feature 6</text><path d="M37.8 148.5L42.5 164.7" stroke="#d9472c" stroke-width="1.9" fill="none"/><path d="M44.2 170.5L39.1 164.7L45.4 162.9Z" fill="#d9472c"/><path d="M107.4 148.5L112.0 164.7" stroke="#d9472c" stroke-width="1.9" fill="none"/><path d="M113.6 170.5L108.5 164.7L114.9 162.9Z" fill="#d9472c"/><path d="M210.9 148.5L215.5 164.7" stroke="#d9472c" stroke-width="1.9" fill="none"/><path d="M217.1 170.5L212.0 164.7L218.4 162.9Z" fill="#d9472c"/><text class="i" x="67.0" y="108.4" font-size="14.4" textLength="117.2" lengthAdjust="spacingAndGlyphs">1) Choose features</text><path d="M308.2 236.6H461.0" stroke="#3c3c3c" stroke-width="2.1" fill="none"/><path d="M465.0 236.6L454.0 231.0L457.4 236.6L454.0 242.2Z" fill="#3c3c3c"/><text class="i" x="317.2" y="262.9" font-size="14.6" textLength="138.5" lengthAdjust="spacingAndGlyphs">2) Input training data</text><text class="i" x="324.5" y="280.7" font-size="14.6" textLength="124.3" lengthAdjust="spacingAndGlyphs">(75% of all data for</text><text class="i" x="322.5" y="299.0" font-size="14.6" textLength="127.7" lengthAdjust="spacingAndGlyphs">features 1, 3, and 6)</text><g><rect x="465.5" y="186.2" width="113.3" height="101.6" fill="url(#gc)" stroke="#4fb9d3" stroke-width="0.8" filter="url(#sh)"/><text class="b" x="489.6" y="222.8" font-size="16.8" textLength="64.1" lengthAdjust="spacingAndGlyphs" style="fill:#17303a;stroke:#17303a">Chosen</text><text class="b" x="483.8" y="243.2" font-size="16.8" textLength="75.7" lengthAdjust="spacingAndGlyphs" style="fill:#17303a;stroke:#17303a">Learning</text><text class="b" x="478.0" y="263.0" font-size="16.8" textLength="87.8" lengthAdjust="spacingAndGlyphs" style="fill:#17303a;stroke:#17303a">Algorithm</text></g><circle cx="768.7" cy="420.6" r="14.3" fill="#d3d3d3"/><path d="M762.3 416L770.6 420.6L762.3 425.2Z" fill="none" stroke="#fff" stroke-width="1" stroke-linejoin="miter"/><path d="M765.4 413.6L777 420.6L765.4 427.6Z" fill="none" stroke="#fff" stroke-width="1.25" stroke-linejoin="miter"/></svg>
<svg class="c" style="left:2400px;top:900px" viewBox="0 0 800 450"><text class="ttx" x="91.2" y="58.9" font-size="31.2" textLength="611.8" lengthAdjust="spacingAndGlyphs" opacity="0.3">Testing a Model with Supervised Learning</text><text class="ttx" x="85.6" y="58.9" font-size="31.2" textLength="624.8" lengthAdjust="spacingAndGlyphs" opacity="0.52">Training a Model with Supervised Learning</text><rect x="27.2" y="170.3" width="280.7" height="170.4" fill="#fff"/><rect x="273.4" y="170.3" width="34.5" height="170.4" fill="url(#gg)"/><rect x="27.2" y="170.3" width="35.8" height="128.9" fill="#dc9f93" opacity="0.6"/><rect x="97.5" y="170.3" width="36.3" height="128.9" fill="#dc9f93" opacity="0.6"/><rect x="202.3" y="170.3" width="35.7" height="128.9" fill="#dc9f93" opacity="0.6"/><path d="M62.4 170.3V340.7M97.5 170.3V340.7M133.2 170.3V340.7M167.4 170.3V340.7M202.3 170.3V340.7M237.4 170.3V340.7M273.4 170.3V340.7M27.2 192.1H307.9M27.2 213.2H307.9M27.2 234.5H307.9M27.2 255.4H307.9M27.2 278.4H307.9M27.2 299.2H307.9M27.2 320.5H307.9" stroke="#db7053" stroke-width="0.85" fill="none"/><rect x="27.2" y="170.3" width="280.7" height="170.4" fill="none" stroke="#8f8f8f" stroke-width="1"/><path d="M27.2 170.3H62.4V299.2H27.2ZM97.5 170.3H133.2V299.2H97.5ZM202.3 170.3H237.4V299.2H202.3Z" stroke="#b8503b" stroke-width="1" fill="none" opacity="0.27"/><text class="b" x="108.0" y="360.6" font-size="16.3" textLength="116.2" lengthAdjust="spacingAndGlyphs">Training Data</text><text class="bi" x="298.6" y="123.7" font-size="16.5" textLength="55.0" lengthAdjust="spacingAndGlyphs">Target</text><text class="bi" x="302.6" y="143.6" font-size="16.5" textLength="47.0" lengthAdjust="spacingAndGlyphs">Value</text><path d="M322.6 149.8L311.0 162.8" stroke="#d9472c" stroke-width="1.9" fill="none"/><path d="M307.0 167.3L309.2 159.9L314.1 164.3Z" fill="#d9472c"/><text class="bi" x="7.0" y="140.7" font-size="13.2" textLength="64.0" lengthAdjust="spacingAndGlyphs">Feature 1</text><text class="bi" x="78.0" y="140.7" font-size="13.2" textLength="67.4" lengthAdjust="spacingAndGlyphs">Feature 3</text><text class="bi" x="177.9" y="140.7" font-size="13.2" textLength="68.1" lengthAdjust="spacingAndGlyphs">Feature 6</text><path d="M37.8 148.5L42.5 164.7" stroke="#d9472c" stroke-width="1.9" fill="none"/><path d="M44.2 170.5L39.1 164.7L45.4 162.9Z" fill="#d9472c"/><path d="M107.4 148.5L112.0 164.7" stroke="#d9472c" stroke-width="1.9" fill="none"/><path d="M113.6 170.5L108.5 164.7L114.9 162.9Z" fill="#d9472c"/><path d="M210.9 148.5L215.5 164.7" stroke="#d9472c" stroke-width="1.9" fill="none"/><path d="M217.1 170.5L212.0 164.7L218.4 162.9Z" fill="#d9472c"/><text class="i" x="67.0" y="108.4" font-size="14.4" textLength="117.2" lengthAdjust="spacingAndGlyphs" opacity="0.6">1) Choose features</text><path d="M308.2 236.6H461.0" stroke="#8a8a8a" stroke-width="2.1" fill="none"/><path d="M465.0 236.6L454.0 231.0L457.4 236.6L454.0 242.2Z" fill="#8a8a8a"/><text class="i" x="317.2" y="262.9" font-size="14.6" textLength="138.5" lengthAdjust="spacingAndGlyphs" opacity="0.6">2) Input training data</text><text class="i" x="324.5" y="280.7" font-size="14.6" textLength="124.3" lengthAdjust="spacingAndGlyphs" opacity="0.6">(75% of all data for</text><text class="i" x="322.5" y="299.0" font-size="14.6" textLength="127.7" lengthAdjust="spacingAndGlyphs" opacity="0.6">features 1, 3, and 6)</text><g opacity="0.62"><rect x="465.5" y="186.2" width="113.3" height="101.6" fill="url(#gc)" stroke="#4fb9d3" stroke-width="0.8" filter="url(#sh)"/><text class="b" x="489.6" y="222.8" font-size="16.8" textLength="64.1" lengthAdjust="spacingAndGlyphs" style="fill:#17303a;stroke:#17303a">Chosen</text><text class="b" x="483.8" y="243.2" font-size="16.8" textLength="75.7" lengthAdjust="spacingAndGlyphs" style="fill:#17303a;stroke:#17303a">Learning</text><text class="b" x="478.0" y="263.0" font-size="16.8" textLength="87.8" lengthAdjust="spacingAndGlyphs" style="fill:#17303a;stroke:#17303a">Algorithm</text></g><path d="M579.2 236.6H668.8" stroke="#8a8a8a" stroke-width="2.1" fill="none"/><path d="M672.8 236.6L661.8 231.0L665.1999999999999 236.6L661.8 242.2Z" fill="#8a8a8a"/><text class="i" x="589.0" y="262.9" font-size="14.6" textLength="75.4" lengthAdjust="spacingAndGlyphs" opacity="0.6">3) Generate</text><text class="i" x="595.0" y="280.7" font-size="14.6" textLength="63.4" lengthAdjust="spacingAndGlyphs" opacity="0.6">candidate</text><text class="i" x="607.0" y="298.4" font-size="14.6" textLength="39.4" lengthAdjust="spacingAndGlyphs" opacity="0.6">model</text><g opacity="0.6"><rect x="673.2" y="186.0" width="108.7" height="102.0" rx="14" fill="url(#gp)" stroke="#cf7f9f" stroke-width="0.9" filter="url(#sh)"/><text class="b" x="683.0" y="231.0" font-size="16.8" textLength="89.2" lengthAdjust="spacingAndGlyphs" style="fill:#33252d;stroke:#33252d">Candidate</text><text class="b" x="701.4" y="251.1" font-size="16.8" textLength="52.4" lengthAdjust="spacingAndGlyphs" style="fill:#33252d;stroke:#33252d">Model</text></g><circle cx="768.7" cy="420.6" r="14.3" fill="#d3d3d3"/><path d="M762.3 416L770.6 420.6L762.3 425.2Z" fill="none" stroke="#fff" stroke-width="1" stroke-linejoin="miter"/><path d="M765.4 413.6L777 420.6L765.4 427.6Z" fill="none" stroke="#fff" stroke-width="1.25" stroke-linejoin="miter"/></svg>
<svg class="c" style="left:0px;top:1350px" viewBox="0 0 800 450"><text class="tt" x="91.2" y="58.9" font-size="31.2" textLength="611.8" lengthAdjust="spacingAndGlyphs">Testing a Model with Supervised Learning</text><rect x="27.2" y="170.3" width="280.7" height="170.4" fill="#fff"/><rect x="273.4" y="170.3" width="34.5" height="170.4" fill="url(#gg)"/><rect x="27.2" y="299.2" width="35.8" height="41.5" fill="#dc9f93" opacity="1.0"/><rect x="97.5" y="299.2" width="36.3" height="41.5" fill="#dc9f93" opacity="1.0"/><rect x="202.3" y="299.2" width="35.7" height="41.5" fill="#dc9f93" opacity="1.0"/><path d="M62.4 170.3V340.7M97.5 170.3V340.7M133.2 170.3V340.7M167.4 170.3V340.7M202.3 170.3V340.7M237.4 170.3V340.7M273.4 170.3V340.7M27.2 192.1H307.9M27.2 213.2H307.9M27.2 234.5H307.9M27.2 255.4H307.9M27.2 278.4H307.9M27.2 299.2H307.9M27.2 320.5H307.9" stroke="#db7053" stroke-width="0.85" fill="none"/><rect x="27.2" y="170.3" width="280.7" height="170.4" fill="none" stroke="#8f8f8f" stroke-width="1"/><path d="M27.2 299.2H62.4V340.7H27.2ZM97.5 299.2H133.2V340.7H97.5ZM202.3 299.2H237.4V340.7H202.3Z" stroke="#b8503b" stroke-width="1" fill="none" opacity="0.45"/><text class="b" x="108.0" y="360.6" font-size="16.3" textLength="116.2" lengthAdjust="spacingAndGlyphs">Training Data</text><text class="bi" x="298.6" y="123.7" font-size="16.5" textLength="55.0" lengthAdjust="spacingAndGlyphs">Target</text><text class="bi" x="302.6" y="143.6" font-size="16.5" textLength="47.0" lengthAdjust="spacingAndGlyphs">Value</text><path d="M322.6 149.8L311.0 162.8" stroke="#d9472c" stroke-width="1.9" fill="none"/><path d="M307.0 167.3L309.2 159.9L314.1 164.3Z" fill="#d9472c"/><text class="bi" x="7.0" y="140.7" font-size="13.2" textLength="64.0" lengthAdjust="spacingAndGlyphs">Feature 1</text><text class="bi" x="78.0" y="140.7" font-size="13.2" textLength="67.4" lengthAdjust="spacingAndGlyphs">Feature 3</text><text class="bi" x="177.9" y="140.7" font-size="13.2" textLength="68.1" lengthAdjust="spacingAndGlyphs">Feature 6</text><path d="M37.8 148.5L42.5 164.7" stroke="#d9472c" stroke-width="1.9" fill="none"/><path d="M44.2 170.5L39.1 164.7L45.4 162.9Z" fill="#d9472c"/><path d="M107.4 148.5L112.0 164.7" stroke="#d9472c" stroke-width="1.9" fill="none"/><path d="M113.6 170.5L108.5 164.7L114.9 162.9Z" fill="#d9472c"/><path d="M210.9 148.5L215.5 164.7" stroke="#d9472c" stroke-width="1.9" fill="none"/><path d="M217.1 170.5L212.0 164.7L218.4 162.9Z" fill="#d9472c"/><path d="M308.2 236.1H465.4" stroke="#3c3c3c" stroke-width="2.1" fill="none"/><path d="M469.4 236.1L458.4 230.5L461.79999999999995 236.1L458.4 241.7Z" fill="#3c3c3c"/><text class="i" x="335.4" y="268.0" font-size="14.6" textLength="109.7" lengthAdjust="spacingAndGlyphs">1) Input test data</text><text class="i" x="329.4" y="286.2" font-size="14.6" textLength="120.9" lengthAdjust="spacingAndGlyphs">(remaining 25% of</text><text class="i" x="326.3" y="304.2" font-size="14.6" textLength="126.7" lengthAdjust="spacingAndGlyphs">all data for features</text><text class="i" x="354.0" y="322.3" font-size="14.6" textLength="71.9" lengthAdjust="spacingAndGlyphs">1, 3, and 6)</text><g><rect x="470.2" y="185.7" width="104.8" height="101.6" rx="14" fill="url(#gp)" stroke="#cf7f9f" stroke-width="0.9" filter="url(#sh)"/><text class="b" x="478.0" y="230.7" font-size="16.8" textLength="89.2" lengthAdjust="spacingAndGlyphs" style="fill:#33252d;stroke:#33252d">Candidate</text><text class="b" x="496.4" y="250.8" font-size="16.8" textLength="52.4" lengthAdjust="spacingAndGlyphs" style="fill:#33252d;stroke:#33252d">Model</text></g><circle cx="768.7" cy="420.6" r="14.3" fill="#d3d3d3"/><path d="M762.3 416L770.6 420.6L762.3 425.2Z" fill="none" stroke="#fff" stroke-width="1" stroke-linejoin="miter"/><path d="M765.4 413.6L777 420.6L765.4 427.6Z" fill="none" stroke="#fff" stroke-width="1.25" stroke-linejoin="miter"/></svg>
<svg class="c" style="left:800px;top:1350px" viewBox="0 0 800 450"><text class="tt" x="91.2" y="58.9" font-size="31.2" textLength="611.8" lengthAdjust="spacingAndGlyphs">Testing a Model with Supervised Learning</text><rect x="27.2" y="170.3" width="280.7" height="170.4" fill="#fff"/><rect x="273.4" y="170.3" width="34.5" height="170.4" fill="url(#gg)"/><rect x="27.2" y="299.2" width="35.8" height="41.5" fill="#dc9f93" opacity="1.0"/><rect x="97.5" y="299.2" width="36.3" height="41.5" fill="#dc9f93" opacity="1.0"/><rect x="202.3" y="299.2" width="35.7" height="41.5" fill="#dc9f93" opacity="1.0"/><path d="M62.4 170.3V340.7M97.5 170.3V340.7M133.2 170.3V340.7M167.4 170.3V340.7M202.3 170.3V340.7M237.4 170.3V340.7M273.4 170.3V340.7M27.2 192.1H307.9M27.2 213.2H307.9M27.2 234.5H307.9M27.2 255.4H307.9M27.2 278.4H307.9M27.2 299.2H307.9M27.2 320.5H307.9" stroke="#db7053" stroke-width="0.85" fill="none"/><rect x="27.2" y="170.3" width="280.7" height="170.4" fill="none" stroke="#8f8f8f" stroke-width="1"/><path d="M27.2 299.2H62.4V340.7H27.2ZM97.5 299.2H133.2V340.7H97.5ZM202.3 299.2H237.4V340.7H202.3Z" stroke="#b8503b" stroke-width="1" fill="none" opacity="0.45"/><text class="b" x="108.0" y="360.6" font-size="16.3" textLength="116.2" lengthAdjust="spacingAndGlyphs">Training Data</text><text class="bi" x="298.6" y="123.7" font-size="16.5" textLength="55.0" lengthAdjust="spacingAndGlyphs">Target</text><text class="bi" x="302.6" y="143.6" font-size="16.5" textLength="47.0" lengthAdjust="spacingAndGlyphs">Value</text><path d="M322.6 149.8L311.0 162.8" stroke="#d9472c" stroke-width="1.9" fill="none"/><path d="M307.0 167.3L309.2 159.9L314.1 164.3Z" fill="#d9472c"/><text class="bi" x="7.0" y="140.7" font-size="13.2" textLength="64.0" lengthAdjust="spacingAndGlyphs">Feature 1</text><text class="bi" x="78.0" y="140.7" font-size="13.2" textLength="67.4" lengthAdjust="spacingAndGlyphs">Feature 3</text><text class="bi" x="177.9" y="140.7" font-size="13.2" textLength="68.1" lengthAdjust="spacingAndGlyphs">Feature 6</text><path d="M37.8 148.5L42.5 164.7" stroke="#d9472c" stroke-width="1.9" fill="none"/><path d="M44.2 170.5L39.1 164.7L45.4 162.9Z" fill="#d9472c"/><path d="M107.4 148.5L112.0 164.7" stroke="#d9472c" stroke-width="1.9" fill="none"/><path d="M113.6 170.5L108.5 164.7L114.9 162.9Z" fill="#d9472c"/><path d="M210.9 148.5L215.5 164.7" stroke="#d9472c" stroke-width="1.9" fill="none"/><path d="M217.1 170.5L212.0 164.7L218.4 162.9Z" fill="#d9472c"/><path d="M308.2 236.1H465.4" stroke="#3c3c3c" stroke-width="2.1" fill="none"/><path d="M469.4 236.1L458.4 230.5L461.79999999999995 236.1L458.4 241.7Z" fill="#3c3c3c"/><text class="i" x="335.4" y="268.0" font-size="14.6" textLength="109.7" lengthAdjust="spacingAndGlyphs">1) Input test data</text><text class="i" x="329.4" y="286.2" font-size="14.6" textLength="120.9" lengthAdjust="spacingAndGlyphs">(remaining 25% of</text><text class="i" x="326.3" y="304.2" font-size="14.6" textLength="126.7" lengthAdjust="spacingAndGlyphs">all data for features</text><text class="i" x="354.0" y="322.3" font-size="14.6" textLength="71.9" lengthAdjust="spacingAndGlyphs">1, 3, and 6)</text><g><rect x="470.2" y="185.7" width="104.8" height="101.6" rx="14" fill="url(#gp)" stroke="#cf7f9f" stroke-width="0.9" filter="url(#sh)"/><text class="b" x="478.0" y="230.7" font-size="16.8" textLength="89.2" lengthAdjust="spacingAndGlyphs" style="fill:#33252d;stroke:#33252d">Candidate</text><text class="b" x="496.4" y="250.8" font-size="16.8" textLength="52.4" lengthAdjust="spacingAndGlyphs" style="fill:#33252d;stroke:#33252d">Model</text></g><path d="M575.4 235.7H685.6" stroke="#3c3c3c" stroke-width="2.1" fill="none"/><path d="M689.6 235.7L678.6 230.1L682.0 235.7L678.6 241.29999999999998Z" fill="#3c3c3c"/><rect x="690.3" y="213.1" width="35.8" height="46.2" fill="url(#gg2)" stroke="#8e8e8e" stroke-width="1" filter="url(#sh)"/><path d="M690.8 236.3H725.6" stroke="#db7053" stroke-width="0.9"/><text class="i" x="595.5" y="269.0" font-size="14.6" textLength="75.3" lengthAdjust="spacingAndGlyphs">2) Generate</text><text class="i" x="591.7" y="287.3" font-size="14.6" textLength="82.8" lengthAdjust="spacingAndGlyphs">target values</text><text class="i" x="587.6" y="305.3" font-size="14.6" textLength="91.1" lengthAdjust="spacingAndGlyphs">from test data</text><circle cx="768.7" cy="420.6" r="14.3" fill="#d3d3d3"/><path d="M762.3 416L770.6 420.6L762.3 425.2Z" fill="none" stroke="#fff" stroke-width="1" stroke-linejoin="miter"/><path d="M765.4 413.6L777 420.6L765.4 427.6Z" fill="none" stroke="#fff" stroke-width="1.25" stroke-linejoin="miter"/></svg>
<svg class="c" style="left:1600px;top:1350px" viewBox="0 0 800 450"><text class="tt" x="91.2" y="58.9" font-size="31.2" textLength="611.8" lengthAdjust="spacingAndGlyphs">Testing a Model with Supervised Learning</text><rect x="27.2" y="170.3" width="280.7" height="170.4" fill="#fff"/><rect x="273.4" y="170.3" width="34.5" height="170.4" fill="url(#gg)"/><rect x="27.2" y="299.2" width="35.8" height="41.5" fill="#dc9f93" opacity="1.0"/><rect x="97.5" y="299.2" width="36.3" height="41.5" fill="#dc9f93" opacity="1.0"/><rect x="202.3" y="299.2" width="35.7" height="41.5" fill="#dc9f93" opacity="1.0"/><path d="M62.4 170.3V340.7M97.5 170.3V340.7M133.2 170.3V340.7M167.4 170.3V340.7M202.3 170.3V340.7M237.4 170.3V340.7M273.4 170.3V340.7M27.2 192.1H307.9M27.2 213.2H307.9M27.2 234.5H307.9M27.2 255.4H307.9M27.2 278.4H307.9M27.2 299.2H307.9M27.2 320.5H307.9" stroke="#db7053" stroke-width="0.85" fill="none"/><rect x="27.2" y="170.3" width="280.7" height="170.4" fill="none" stroke="#8f8f8f" stroke-width="1"/><path d="M27.2 299.2H62.4V340.7H27.2ZM97.5 299.2H133.2V340.7H97.5ZM202.3 299.2H237.4V340.7H202.3Z" stroke="#b8503b" stroke-width="1" fill="none" opacity="0.45"/><text class="b" x="108.0" y="360.6" font-size="16.3" textLength="116.2" lengthAdjust="spacingAndGlyphs">Training Data</text><text class="bi" x="298.6" y="123.7" font-size="16.5" textLength="55.0" lengthAdjust="spacingAndGlyphs">Target</text><text class="bi" x="302.6" y="143.6" font-size="16.5" textLength="47.0" lengthAdjust="spacingAndGlyphs">Value</text><path d="M322.6 149.8L311.0 162.8" stroke="#d9472c" stroke-width="1.9" fill="none"/><path d="M307.0 167.3L309.2 159.9L314.1 164.3Z" fill="#d9472c"/><text class="bi" x="7.0" y="140.7" font-size="13.2" textLength="64.0" lengthAdjust="spacingAndGlyphs">Feature 1</text><text class="bi" x="78.0" y="140.7" font-size="13.2" textLength="67.4" lengthAdjust="spacingAndGlyphs">Feature 3</text><text class="bi" x="177.9" y="140.7" font-size="13.2" textLength="68.1" lengthAdjust="spacingAndGlyphs">Feature 6</text><path d="M37.8 148.5L42.5 164.7" stroke="#d9472c" stroke-width="1.9" fill="none"/><path d="M44.2 170.5L39.1 164.7L45.4 162.9Z" fill="#d9472c"/><path d="M107.4 148.5L112.0 164.7" stroke="#d9472c" stroke-width="1.9" fill="none"/><path d="M113.6 170.5L108.5 164.7L114.9 162.9Z" fill="#d9472c"/><path d="M210.9 148.5L215.5 164.7" stroke="#d9472c" stroke-width="1.9" fill="none"/><path d="M217.1 170.5L212.0 164.7L218.4 162.9Z" fill="#d9472c"/><path d="M308.2 236.1H465.4" stroke="#3c3c3c" stroke-width="2.1" fill="none"/><path d="M469.4 236.1L458.4 230.5L461.79999999999995 236.1L458.4 241.7Z" fill="#3c3c3c"/><text class="i" x="335.4" y="268.0" font-size="14.6" textLength="109.7" lengthAdjust="spacingAndGlyphs">1) Input test data</text><text class="i" x="329.4" y="286.2" font-size="14.6" textLength="120.9" lengthAdjust="spacingAndGlyphs">(remaining 25% of</text><text class="i" x="326.3" y="304.2" font-size="14.6" textLength="126.7" lengthAdjust="spacingAndGlyphs">all data for features</text><text class="i" x="354.0" y="322.3" font-size="14.6" textLength="71.9" lengthAdjust="spacingAndGlyphs">1, 3, and 6)</text><g><rect x="470.2" y="185.7" width="104.8" height="101.6" rx="14" fill="url(#gp)" stroke="#cf7f9f" stroke-width="0.9" filter="url(#sh)"/><text class="b" x="478.0" y="230.7" font-size="16.8" textLength="89.2" lengthAdjust="spacingAndGlyphs" style="fill:#33252d;stroke:#33252d">Candidate</text><text class="b" x="496.4" y="250.8" font-size="16.8" textLength="52.4" lengthAdjust="spacingAndGlyphs" style="fill:#33252d;stroke:#33252d">Model</text></g><path d="M575.4 235.7H685.6" stroke="#3c3c3c" stroke-width="2.1" fill="none"/><path d="M689.6 235.7L678.6 230.1L682.0 235.7L678.6 241.29999999999998Z" fill="#3c3c3c"/><rect x="690.3" y="213.1" width="35.8" height="46.2" fill="url(#gg2)" stroke="#8e8e8e" stroke-width="1" filter="url(#sh)"/><path d="M690.8 236.3H725.6" stroke="#db7053" stroke-width="0.9"/><text class="i" x="595.5" y="269.0" font-size="14.6" textLength="75.3" lengthAdjust="spacingAndGlyphs">2) Generate</text><text class="i" x="591.7" y="287.3" font-size="14.6" textLength="82.8" lengthAdjust="spacingAndGlyphs">target values</text><text class="i" x="587.6" y="305.3" font-size="14.6" textLength="91.1" lengthAdjust="spacingAndGlyphs">from test data</text><path d="M711 268C725 285 742 308 742 332C742 366 692 370 650 366.5C560 359 420 345 325 332.6" stroke="#555" stroke-width="0.9" stroke-dasharray="2.4 2" fill="none"/><path d="M319.5 331.8L327.8 328.6L325.6 332.6L327 336.6Z" fill="#333"/><text class="i" x="545.1" y="392.2" font-size="14.6" textLength="163.0" lengthAdjust="spacingAndGlyphs">3) Compare target values</text><text class="i" x="530.6" y="410.5" font-size="14.6" textLength="192.0" lengthAdjust="spacingAndGlyphs">generated from test data with</text><text class="i" x="563.8" y="428.5" font-size="14.6" textLength="126.3" lengthAdjust="spacingAndGlyphs">actual target values</text><circle cx="768.7" cy="420.6" r="14.3" fill="#d3d3d3"/><path d="M762.3 416L770.6 420.6L762.3 425.2Z" fill="none" stroke="#fff" stroke-width="1" stroke-linejoin="miter"/><path d="M765.4 413.6L777 420.6L765.4 427.6Z" fill="none" stroke="#fff" stroke-width="1.25" stroke-linejoin="miter"/></svg>
<svg class="c" style="left:2400px;top:1350px" viewBox="0 0 800 450"><text class="tt" x="147.0" y="58.9" font-size="31.2" textLength="500.5" lengthAdjust="spacingAndGlyphs">Improving a Model: Some Options</text><circle cx="768.7" cy="420.6" r="14.3" fill="#d3d3d3"/><path d="M762.3 416L770.6 420.6L762.3 425.2Z" fill="none" stroke="#fff" stroke-width="1" stroke-linejoin="miter"/><path d="M765.4 413.6L777 420.6L765.4 427.6Z" fill="none" stroke="#fff" stroke-width="1.25" stroke-linejoin="miter"/></svg>
<div class="ln" style="top:448.75px"></div>
<div class="lg" style="left:152px;top:448.6px"></div>
<div class="lg" style="left:952px;top:448.6px"></div>
<div class="lg" style="left:1752px;top:448.6px"></div>
<div class="lg" style="left:2552px;top:448.6px"></div>
<div class="ln" style="top:898.75px"></div>
<div class="lg" style="left:152px;top:898.6px"></div>
<div class="lg" style="left:952px;top:898.6px"></div>
<div class="lg" style="left:1752px;top:898.6px"></div>
<div class="lg" style="left:2552px;top:898.6px"></div>
<div class="ln" style="top:1348.75px"></div>
<div class="lg" style="left:152px;top:1348.6px"></div>
<div class="lg" style="left:952px;top:1348.6px"></div>
<div class="lg" style="left:1752px;top:1348.6px"></div>
<div class="lg" style="left:2552px;top:1348.6px"></div>
<div class="ln" style="top:1798.75px"></div>
<div class="lg" style="left:152px;top:1798.6px"></div>
<div class="lg" style="left:952px;top:1798.6px"></div>
<div class="lg" style="left:1752px;top:1798.6px"></div>
<div class="lg" style="left:2552px;top:1798.6px"></div>
</body></html>
